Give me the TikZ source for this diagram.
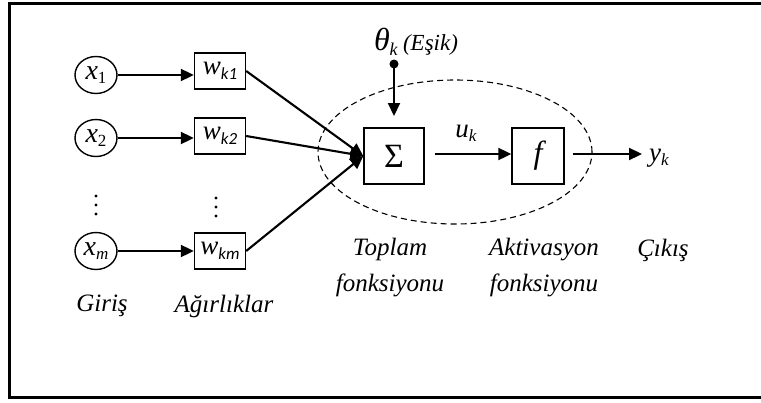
\documentclass[tikz,border=0pt]{standalone}
\usepackage{fontspec}
\setmainfont{Liberation Serif}
\newfontfamily\wfont{Carlito}
\usetikzlibrary{arrows.meta,shapes.geometric}
\begin{document}
\begin{tikzpicture}[x=1pt,y=-1pt,
  every node/.style={inner sep=0pt},
  lbl/.style={font=\fontsize{25}{36}\selectfont\itshape, align=center},
  inp/.style={draw, line width=1.4pt, ellipse, minimum width=42pt, minimum height=37pt, font=\fontsize{28}{30}\selectfont},
  wbox/.style={draw, line width=1.4pt, minimum width=51pt, minimum height=36pt, font=\fontsize{27}{30}\selectfont},
  fbox/.style={draw, line width=1.4pt, minimum height=56pt},
  arr/.style={line width=2.1pt, -{Triangle[length=13pt,width=12pt]}},
]
\useasboundingbox (0,0) rectangle (761,402);
\draw[line width=2.6pt] (770,3.5) -- (9.5,3.5) -- (9.5,397.5) -- (770,397.5);

% inputs
\node[inp] (x1) at (96,75) {\textit{x}\raisebox{-0.3ex}{\fontsize{17}{18}\selectfont 1}};
\node[inp] (x2) at (96,138) {\textit{x}\raisebox{-0.3ex}{\fontsize{17}{18}\selectfont 2}};
\node[inp] (xm) at (96,251) {\textit{x}\raisebox{-0.3ex}{\fontsize{17}{18}\selectfont\itshape m}};

% weights
\node[wbox] (w1) at (220,71) {\textit{w}\raisebox{-0.45ex}{\wfont\itshape\fontsize{17}{18}\selectfont k1}};
\node[wbox] (w2) at (220,136) {\textit{w}\raisebox{-0.45ex}{\wfont\itshape\fontsize{17}{18}\selectfont k2}};
\node[wbox] (wm) at (220,251) {\textit{w}\raisebox{-0.45ex}{\wfont\itshape\fontsize{17}{18}\selectfont km}};

% vertical dots
\foreach \yy in {196,205,214} { \fill (96,\yy) circle (1.7pt); }
\foreach \yy in {198,207,216} { \fill (216,\yy) circle (1.7pt); }

% ellipse
\node[draw, dash pattern=on 6pt off 4pt, line width=1.1pt, ellipse, minimum width=274pt, minimum height=144pt] (ell) at (455,152) {};

% sum and activation
\node[fbox, minimum width=60pt] (sum) at (394,156) {\fontsize{34}{36}\selectfont Σ};
\node[fbox, minimum width=52pt] (act) at (538,156) {\fontsize{32}{34}\selectfont\itshape f};

% threshold
\node (th) at (416,42) {\fontsize{32}{34}\selectfont\itshape θ\raisebox{-0.3ex}{\fontsize{18}{20}\selectfont k}\,\fontsize{23}{26}\selectfont(Eşik)};
\coordinate (thd) at (394,64);
\fill (thd) circle (4.5pt);
\coordinate (tha) at (394,116);
\draw[arr] (thd) -- (tha);

% output
\node (y) at (659,158) {\fontsize{27}{30}\selectfont\textit{y}\raisebox{-0.3ex}{\fontsize{17}{18}\selectfont\itshape k}};
\node (u) at (466,133) {\fontsize{27}{30}\selectfont\textit{u}\raisebox{-0.3ex}{\fontsize{17}{18}\selectfont\itshape k}};

% connectors
\draw[arr] (x1) -- (w1.west |- x1);
\draw[arr] (x2) -- (w2.west |- x2);
\draw[arr] (xm) -- (wm.west |- xm);
\draw[arr] (w1.east) -- (sum.west);
\draw[arr] (w2.east) -- (sum.west);
\draw[arr] (wm.east) -- (sum.west);
\draw[arr] (sum.east) ++(10,-2) coordinate (se) (se) -- (act.west |- se);
\draw[arr, shorten >=7pt] (act.east) ++(8,-2) coordinate (ae) (ae) -- (y.west |- ae);

% labels
\node[lbl] (giris) at (102,306) {Giriş};
\node[lbl] (agir) at (224,306) {Ağırlıklar};
\node[lbl] (top) at (390,268) {Toplam\\fonksiyonu};
\node[lbl] (akt) at (544,268) {Aktivasyon\\fonksiyonu};
\node[lbl] (cik) at (663,250) {Çıkış};
\end{tikzpicture}
\end{document}
